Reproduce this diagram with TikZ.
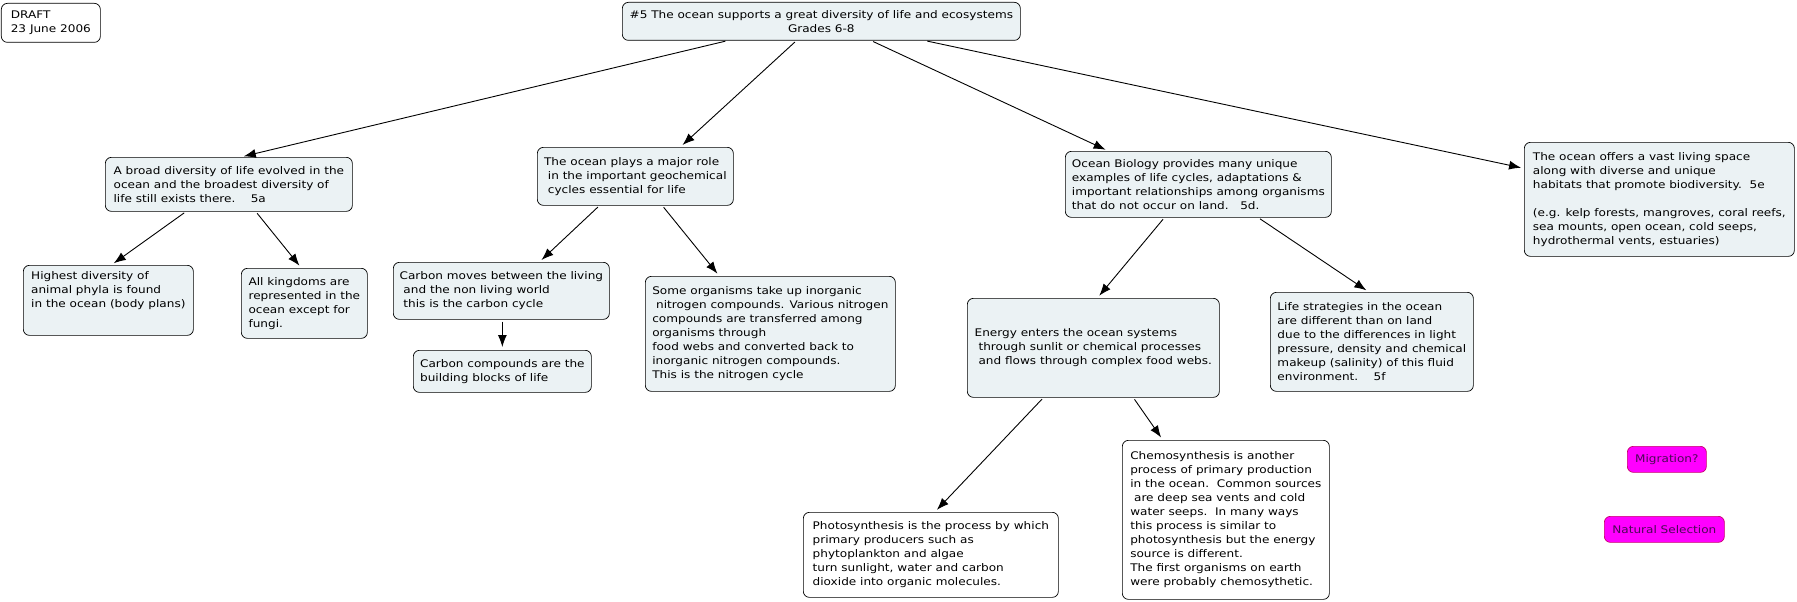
\documentclass[tikz,border=0pt]{standalone}
\usepackage{fontspec}
\usepackage{tikz}
\usetikzlibrary{arrows.meta,positioning}
\newfontfamily\cmapfont{DejaVu Sans}[FakeStretch=1.15]
\definecolor{cmapfill}{HTML}{EBF2F4}
\definecolor{cmappink}{HTML}{FF00FF}
\definecolor{cmappinkline}{HTML}{C8006E}
\definecolor{cmappinktext}{HTML}{4A0A55}
\tikzset{
    every node/.style={font=\cmapfont\fontsize{10.5}{14}\selectfont},
    concept/.style={draw,rounded corners=6pt,fill=cmapfill,line width=0.7pt,
        inner sep=0pt,align=left,anchor=north west},
    plainbox/.style={concept,fill=white},
    rootbox/.style={concept,align=center},
    tagbox/.style={concept,fill=cmappink,draw=cmappinkline,text=cmappinktext,align=center}
}

\begin{document}
\begin{tikzpicture}[
x=1pt,y=-1pt,
link/.style={draw,line width=0.9pt,-{Latex[length=12pt,width=9pt]},shorten >=3pt,shorten <=2pt}
]
\useasboundingbox (0,0) rectangle (1797,602);

\node[plainbox,minimum width=99pt,minimum height=39pt] (draft) at (1,3)
    {DRAFT\\23 June 2006};
\node[rootbox,minimum width=398pt,minimum height=38pt] (root) at (622,2)
    {\#5 The ocean supports a great diversity of life and ecosystems\\Grades 6-8};

% first level
\node[concept,minimum width=247pt,minimum height=54pt] (broad) at (105,157)
    {A broad diversity of life evolved in the\\ocean and the broadest diversity of\\life still exists there.\ \ \ \ 5a};
\node[concept,minimum width=196pt,minimum height=58pt] (cycles) at (537,147)
    {The ocean plays a major role\\\ in the important geochemical\\\ cycles essential for life};
\node[concept,minimum width=266pt,minimum height=66pt] (biology) at (1065,151)
    {Ocean Biology provides many unique\\examples of life cycles, adaptations \&\\important relationships among organisms\\that do not occur on land.\ \ \ 5d.};
\node[concept,minimum width=270pt,minimum height=114pt] (habitats) at (1524,142)
    {The ocean offers a vast living space\\along with diverse and unique\\habitats that promote biodiversity.\ \ 5e\\[14pt](e.g. kelp forests, mangroves, coral reefs,\\sea mounts, open ocean, cold seeps,\\hydrothermal vents, estuaries)};

% second level
\node[concept,minimum width=170pt,minimum height=70pt] (phyla) at (23,265)
    {Highest diversity of\\animal phyla is found\\in the ocean (body plans)\\[8pt]};
\node[concept,minimum width=126pt,minimum height=70pt] (kingdoms) at (241,268)
    {All kingdoms are\\represented in the\\ocean except for\\fungi.};
\node[concept,minimum width=216pt,minimum height=57pt] (carbon) at (393,262)
    {Carbon moves between the living\\\ and the non living world\\\ this is the carbon cycle};
\node[concept,minimum width=178pt,minimum height=42pt] (blocks) at (413,350)
    {Carbon compounds are the\\building blocks of life};
\node[concept,minimum width=250pt,minimum height=115pt] (nitrogen) at (645,276)
    {Some organisms take up inorganic\\\ nitrogen compounds. Various nitrogen\\compounds are transferred among\\organisms through\\food webs and converted back to\\inorganic nitrogen compounds.\\This is the nitrogen cycle};
\node[concept,minimum width=252pt,minimum height=99pt] (energy) at (967,298)
    {Energy enters the ocean systems\\\ through sunlit or chemical processes\\\ and flows through complex food webs.};
\node[concept,minimum width=203pt,minimum height=99pt] (strategies) at (1270,292)
    {Life strategies in the ocean\\are different than on land\\due to the differences in light\\pressure, density and chemical\\makeup (salinity) of this fluid\\environment.\ \ \ \ 5f};

% third level
\node[plainbox,minimum width=255pt,minimum height=85pt] (photo) at (803,512)
    {Photosynthesis is the process by which\\primary producers such as\\phytoplankton and algae\\turn sunlight, water and carbon\\dioxide into organic molecules.};
\node[plainbox,minimum width=207pt,minimum height=159pt] (chemo) at (1122,440)
    {Chemosynthesis is another\\process of primary production\\in the ocean.\ \ Common sources\\\ are deep sea vents and cold\\water seeps.\ \ In many ways\\this process is similar to\\photosynthesis but the energy\\source is different.\\The first organisms on earth\\were probably chemosythetic.};

% loose tags
\node[tagbox,minimum width=79pt,minimum height=26pt] (migration) at (1627,446) {Migration?};
\node[tagbox,minimum width=120pt,minimum height=26pt] (selection) at (1604,516) {Natural Selection};

% links
\draw[link] ([xshift=-94pt]root.south) -- ([xshift=12pt]broad.north);
\draw[link] ([xshift=-25pt]root.south) -- ([xshift=45pt]cycles.north);
\draw[link] ([xshift=50pt]root.south) -- ([xshift=-90pt]biology.north);
\draw[link] ([xshift=104pt]root.south) -- ([yshift=31pt]habitats.west);
\draw[link] ([xshift=-43pt]broad.south) -- ([xshift=3pt]phyla.north);
\draw[link] ([xshift=27pt]broad.south) -- ([xshift=-3pt]kingdoms.north);
\draw[link] ([xshift=-36pt]cycles.south) -- ([xshift=38pt]carbon.north);
\draw[link] ([xshift=27pt]cycles.south) -- ([xshift=-51pt]nitrogen.north);
\draw[link] (carbon.south -| blocks.north) -- (blocks.north);
\draw[link] ([xshift=-34pt]biology.south) -- ([xshift=4pt]energy.north);
\draw[link] ([xshift=60pt]biology.south) -- ([xshift=-3pt]strategies.north);
\draw[link] ([xshift=-50pt]energy.south) -- ([xshift=4pt]photo.north);
\draw[link] ([xshift=40pt]energy.south) -- ([xshift=-63pt]chemo.north);
\end{tikzpicture}
\end{document}
